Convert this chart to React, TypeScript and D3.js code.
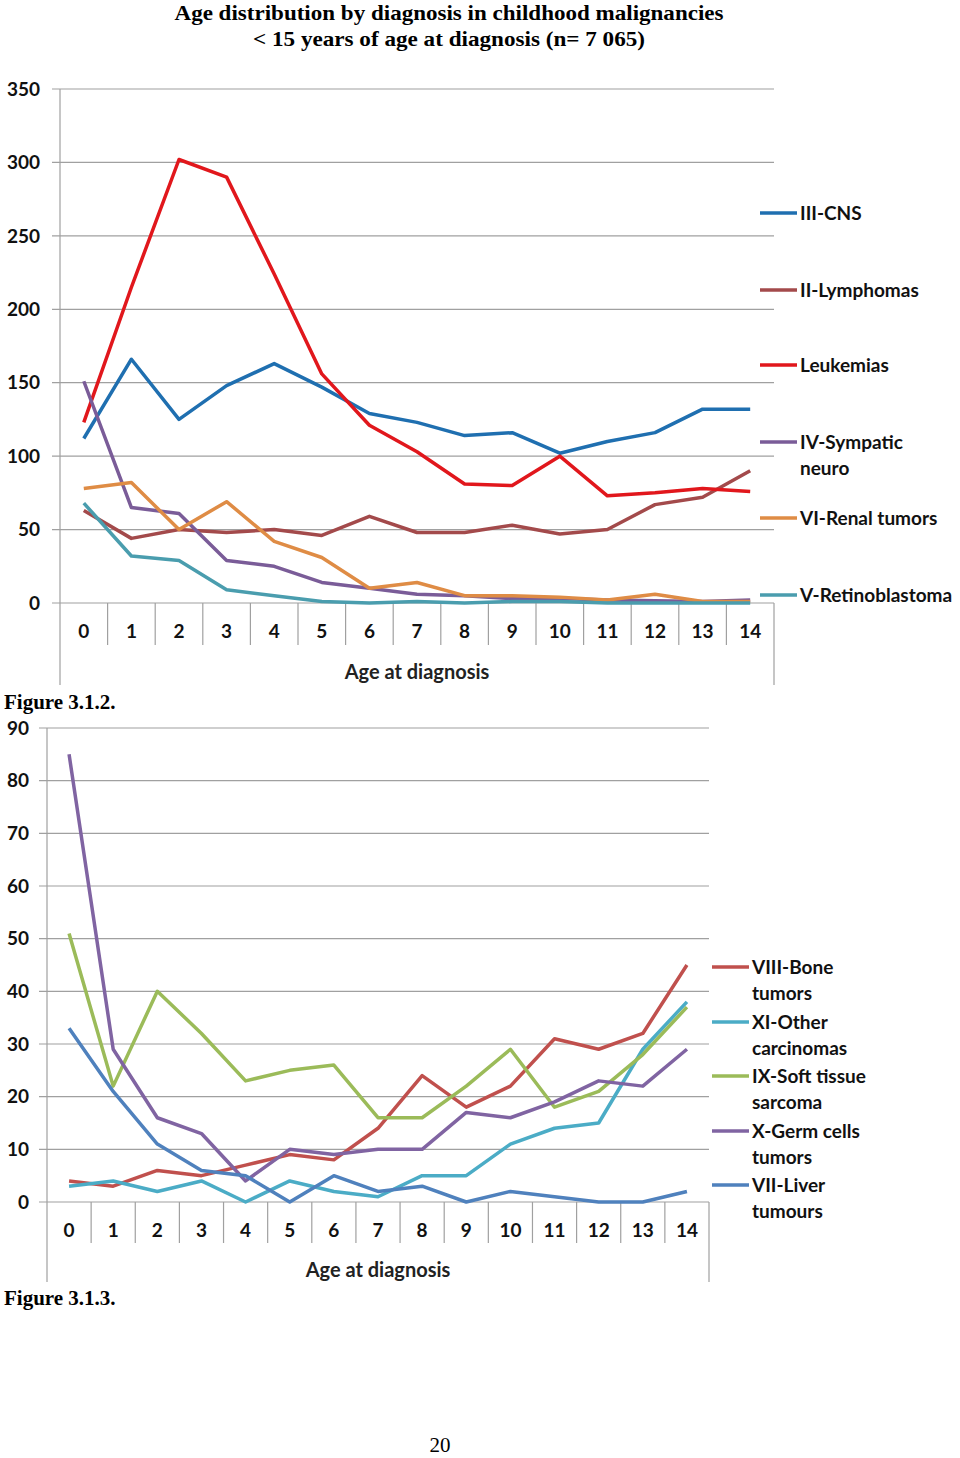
import React from "react";
import * as d3 from "d3";

const ages = ["0","1","2","3","4","5","6","7","8","9","10","11","12","13","14"];

// Figure 3.1.2 series
const cns = [112,166,125,148,163,147,129,123,114,116,102,110,116,132,132];
const lymphomas = [63,44,50,48,50,46,59,48,48,53,47,50,67,72,90];
const leukemias = [123,215,302,290,224,156,121,103,81,80,100,73,75,78,76];
const sympatic = [151,65,61,29,25,14,10,6,5,3,3,2,1.5,1,2];
const renal = [78,82,50,69,42,31,10,14,5,5,4,2,6,1,1];
const retino = [68,32,29,9,5,1,0,1,0,1,1,0,0,0,0];
const topTicks = [0,50,100,150,200,250,300,350];

// Figure 3.1.3 series
const bone = [4,3,6,5,7,9,8,14,24,18,22,31,29,32,45];
const otherCarc = [3,4,2,4,0,4,2,1,5,5,11,14,15,29,38];
const softTissue = [51,22,40,32,23,25,26,16,16,22,29,18,21,28,37];
const germ = [85,29,16,13,4,10,9,10,10,17,16,19,23,22,29];
const liver = [33,21,11,6,5,0,5,2,3,0,2,1,0,0,2];
const bottomTicks = [0,10,20,30,40,50,60,70,80,90];

const topSeries = [
  { name: ["III-CNS"], values: cns, color: "#1f6fb0" },
  { name: ["II-Lymphomas"], values: lymphomas, color: "#a34a4b" },
  { name: ["Leukemias"], values: leukemias, color: "#e1171c" },
  { name: ["IV-Sympatic", "neuro"], values: sympatic, color: "#7a5c98" },
  { name: ["VI-Renal tumors"], values: renal, color: "#df8c45" },
  { name: ["V-Retinoblastoma"], values: retino, color: "#4a9dae" },
];
const topLegendY = [213, 290, 365, 442, 518, 595];

const bottomSeries = [
  { name: ["VIII-Bone", "tumors"], values: bone, color: "#c0504d" },
  { name: ["XI-Other", "carcinomas"], values: otherCarc, color: "#4bacc6" },
  { name: ["IX-Soft tissue", "sarcoma"], values: softTissue, color: "#9bbb59" },
  { name: ["X-Germ cells", "tumors"], values: germ, color: "#8064a2" },
  { name: ["VII-Liver", "tumours"], values: liver, color: "#4f81bd" },
];
const bottomLegendY = [967, 1022, 1076, 1131, 1185];

const FONT = "Lato, 'Open Sans', sans-serif";
const SERIF = "'Liberation Serif', 'DejaVu Serif', serif";
const GRID = "#a0a0a0";
const FS = 19;

type Series = { name: string[]; values: number[]; color: string };

function LineChart(props: {
  series: Series[];
  ticks: number[];
  maxV: number;
  left: number;
  right: number;
  top: number;
  zeroY: number;
  bottom: number;
  sepBottom: number;
  tickLabelRight: number;
  catLabelY: number;
  axisTitleY: number;
  legendLineX: number;
  legendY: number[];
  legendLineGap: number;
}) {
  const p = props;
  const x = d3.scaleBand<string>().domain(ages).range([p.left, p.right]);
  const y = d3.scaleLinear().domain([0, p.maxV]).range([p.zeroY, p.top]);
  const cx = (i: number) => (x(ages[i]) as number) + x.bandwidth() / 2;
  const line = d3
    .line<number>()
    .x((_, i) => cx(i))
    .y((d) => y(d));
  return (
    <g>
      {p.ticks.map((t) => (
        <g key={t}>
          <line x1={p.left - 8} x2={p.right} y1={y(t)} y2={y(t)} stroke={GRID} strokeWidth={1.2} />
          <text
            x={p.tickLabelRight}
            y={y(t)}
            dy="0.35em"
            textAnchor="end"
            fontFamily={FONT}
            fontWeight={700}
            fontSize={FS}
            fill="#111"
          >
            {t}
          </text>
        </g>
      ))}
      <line x1={p.left} x2={p.left} y1={p.top} y2={p.bottom} stroke={GRID} strokeWidth={1.2} />
      <line x1={p.right} x2={p.right} y1={p.zeroY} y2={p.bottom} stroke={GRID} strokeWidth={1.2} />
      {ages.slice(1).map((a) => (
        <line
          key={a}
          x1={x(a) as number}
          x2={x(a) as number}
          y1={p.zeroY}
          y2={p.sepBottom}
          stroke={GRID}
          strokeWidth={1.2}
        />
      ))}
      {ages.map((a, i) => (
        <text
          key={a}
          x={cx(i)}
          y={p.catLabelY}
          dy="0.35em"
          textAnchor="middle"
          fontFamily={FONT}
          fontWeight={700}
          fontSize={FS}
          fill="#111"
        >
          {a}
        </text>
      ))}
      <text
        x={(p.left + p.right) / 2}
        y={p.axisTitleY}
        dy="0.35em"
        textAnchor="middle"
        fontFamily={FONT}
        fontWeight={700}
        fontSize={20}
        fill="#222"
      >
        Age at diagnosis
      </text>
      {p.series.map((s) => (
        <path
          key={s.name[0]}
          d={line(s.values) || ""}
          fill="none"
          stroke={s.color}
          strokeWidth={3.5}
          strokeLinejoin="round"
        />
      ))}
      {p.series.map((s, k) => (
        <g key={"lg" + k}>
          <line
            x1={p.legendLineX}
            x2={p.legendLineX + 37}
            y1={p.legendY[k]}
            y2={p.legendY[k]}
            stroke={s.color}
            strokeWidth={3.5}
          />
          {s.name.map((n, j) => (
            <text
              key={j}
              x={p.legendLineX + 40}
              y={p.legendY[k] + j * p.legendLineGap}
              dy="0.35em"
              fontFamily={FONT}
              fontWeight={700}
              fontSize={FS}
              fill="#111"
            >
              {n}
            </text>
          ))}
        </g>
      ))}
    </g>
  );
}

export default function App() {
  return (
    <svg width={960} height={1458} style={{ position: "absolute", left: 0, top: 0, background: "#fff" }}>
      <rect x={0} y={0} width={960} height={1458} fill="#fff" />
      <text x={449} y={12} dy="0.35em" textAnchor="middle" fontFamily={SERIF} fontWeight={700} fontSize={22}
        textLength={549} lengthAdjust="spacingAndGlyphs" fill="#000">
        Age distribution by diagnosis in childhood malignancies
      </text>
      <text x={449} y={38} dy="0.35em" textAnchor="middle" fontFamily={SERIF} fontWeight={700} fontSize={22}
        textLength={392} lengthAdjust="spacingAndGlyphs" fill="#000">
        {"< 15 years of age at diagnosis (n= 7 065)"}
      </text>
      <LineChart
        series={topSeries}
        ticks={topTicks}
        maxV={350}
        left={60}
        right={774}
        top={89}
        zeroY={603}
        bottom={685}
        sepBottom={645}
        tickLabelRight={40}
        catLabelY={631}
        axisTitleY={672}
        legendLineX={760}
        legendY={topLegendY}
        legendLineGap={26}
      />
      <text x={4} y={702} dy="0.35em" fontFamily={SERIF} fontWeight={700} fontSize={21} fill="#000">
        Figure 3.1.2.
      </text>
      <LineChart
        series={bottomSeries}
        ticks={bottomTicks}
        maxV={90}
        left={47}
        right={709}
        top={728}
        zeroY={1202}
        bottom={1282}
        sepBottom={1243}
        tickLabelRight={29}
        catLabelY={1230}
        axisTitleY={1270}
        legendLineX={712}
        legendY={bottomLegendY}
        legendLineGap={26}
      />
      <text x={4} y={1298} dy="0.35em" fontFamily={SERIF} fontWeight={700} fontSize={21} fill="#000">
        Figure 3.1.3.
      </text>
      <text x={440} y={1445} dy="0.35em" textAnchor="middle" fontFamily={SERIF} fontSize={21} fill="#000">
        20
      </text>
    </svg>
  );
}
